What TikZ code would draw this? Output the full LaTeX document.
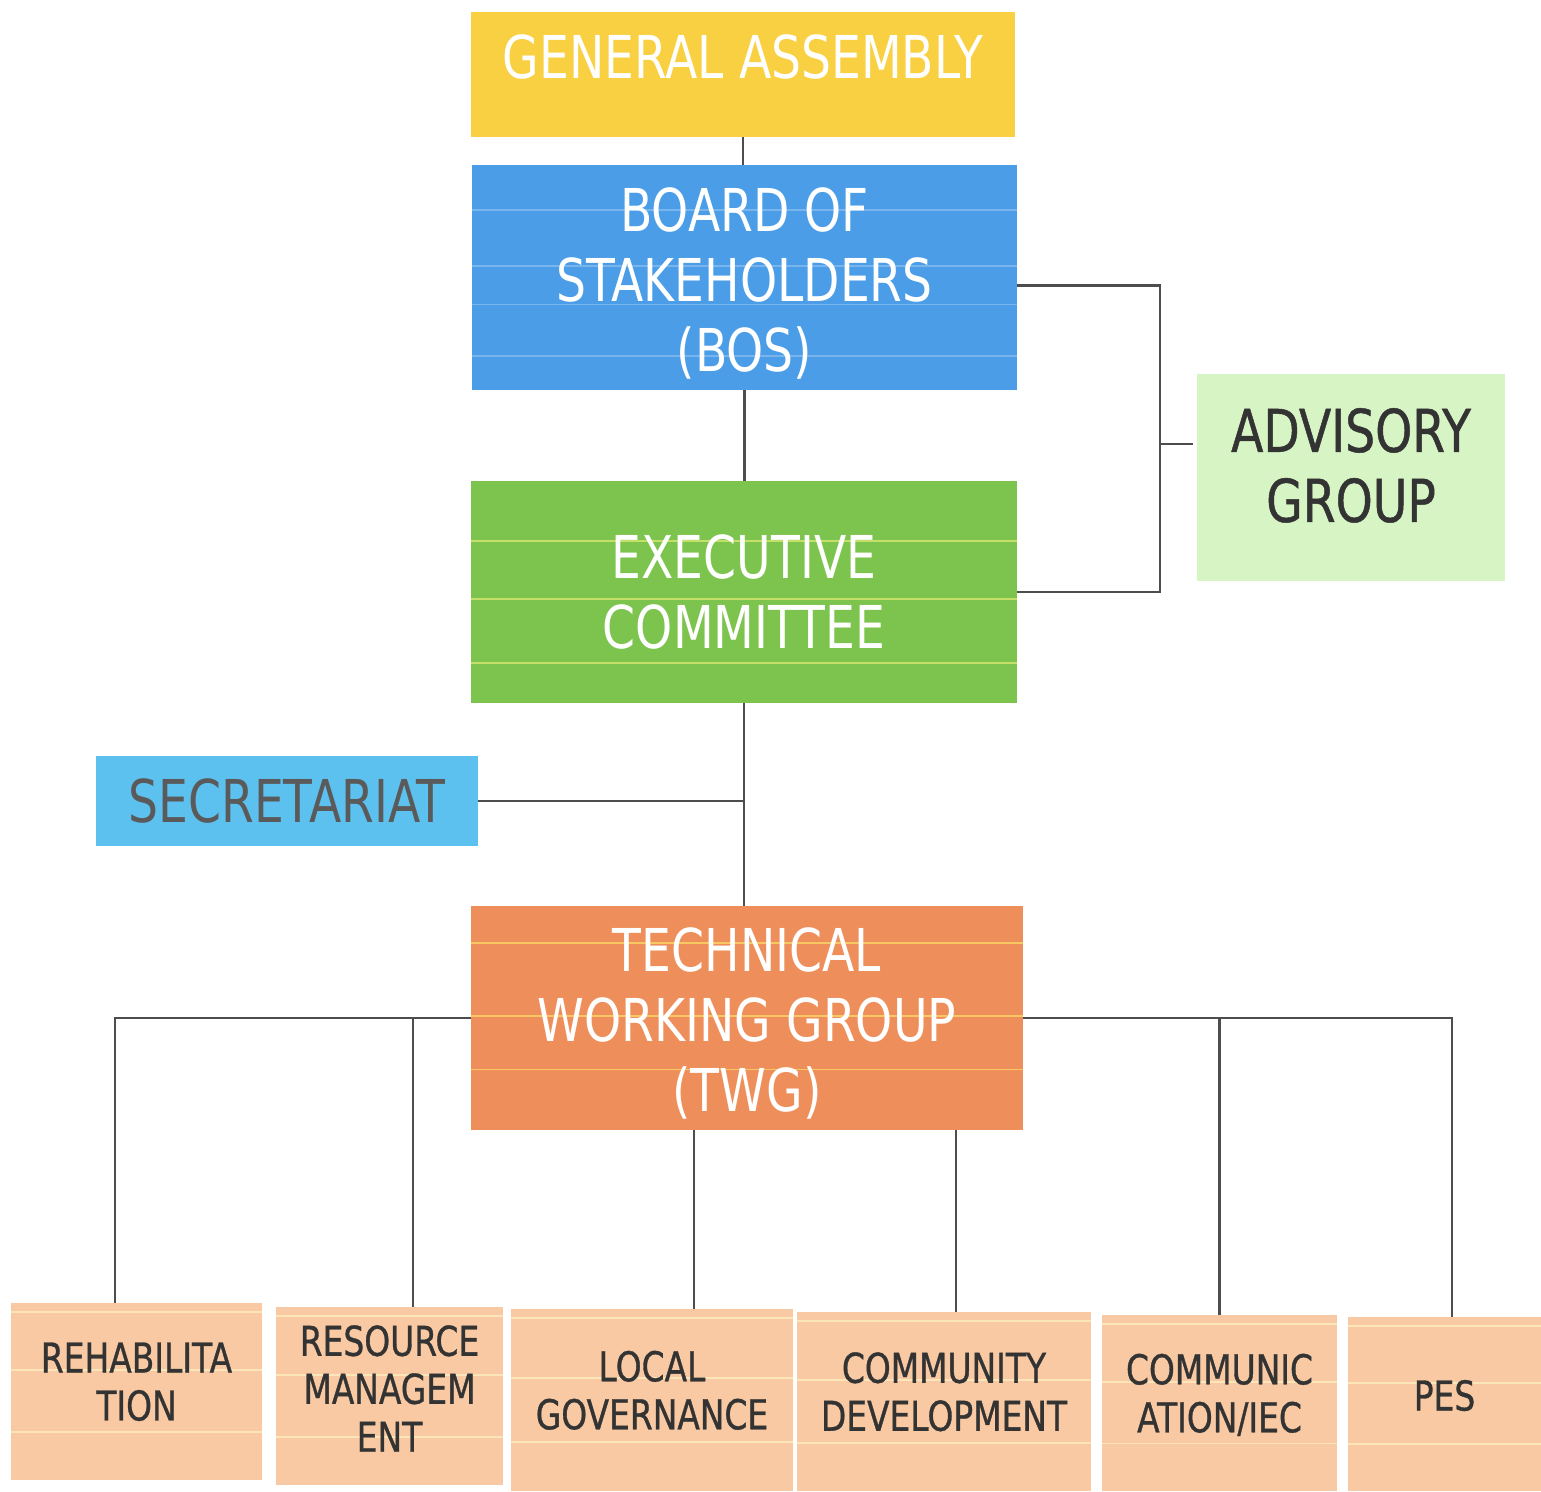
\documentclass[tikz,border=0pt]{standalone}
\usepackage{fontspec}
\newfontfamily\boxfont[FakeStretch=0.8]{DejaVu Sans}
\newfontfamily\unitfont[FakeStretch=0.8,FakeBold=0.8]{DejaVu Sans}
\usetikzlibrary{calc}
\definecolor{assembly}{HTML}{F9D041}
\definecolor{board}{HTML}{4A9DE6}
\definecolor{executive}{HTML}{7DC44E}
\definecolor{advisory}{HTML}{D7F4C4}
\definecolor{secretariat}{HTML}{5CC1EE}
\definecolor{technical}{HTML}{EE8F5B}
\definecolor{unitfill}{HTML}{F8C9A2}
\definecolor{darktext}{HTML}{333333}
\definecolor{greytext}{HTML}{5A5A5A}
\definecolor{linkgray}{HTML}{4D4D4D}
% extra depth on the last line lifts the text inside its box
\newcommand{\liftby}[1]{\rule[-#1]{0pt}{#1}}
% extra height on the first line drops it
\newcommand{\dropby}[1]{\rule{0pt}{#1}}

\begin{document}
\begin{tikzpicture}[x=0.02cm, y=-0.02cm,
    link/.style={draw=linkgray, line width=1.6pt},
    bigtext/.style={font=\boxfont\fontsize{33.6}{39.8}\selectfont, align=center, inner sep=0pt},
    unit/.style={font=\unitfont\fontsize{23.4}{27.3}\selectfont, align=center, inner sep=0pt,
        text=darktext, fill=unitfill, stripes={yellow!20!white}{0.05,0.38,0.73}},
    stripes/.style 2 args={path picture={
        \foreach \f in {#2}
            \draw[#1, opacity=0.55, line width=1.1pt]
                ($(path picture bounding box.north west)!\f!(path picture bounding box.south west)$) --
                ($(path picture bounding box.north east)!\f!(path picture bounding box.south east)$);
    }}]
    \useasboundingbox (0,0) rectangle (1541,1491);

    % upper boxes
    \node[bigtext, fill=assembly, text=white, minimum width=10.88cm, minimum height=2.5cm,
        text depth=0.72cm] (ga) at (743,74.5) {GENERAL ASSEMBLY};
    \node[bigtext, fill=board, text=white, minimum width=10.9cm, minimum height=4.5cm,
        stripes={board!55!white}{0.2,0.45,0.62,0.85}] (bos) at (744.5,277.5)
        {\dropby{1.1cm}BOARD OF\\STAKEHOLDERS\\(BOS)};
    \node[bigtext, fill=executive, text=white, minimum width=10.92cm, minimum height=4.44cm,
        stripes={yellow!50!white}{0.27,0.53,0.82}] (exec) at (744,592) {EXECUTIVE\\COMMITTEE};
    \node[bigtext, fill=advisory, text=darktext, minimum width=6.16cm, minimum height=4.14cm,
        font=\unitfont\fontsize{33.6}{39.8}\selectfont] (adv) at (1351,477.5)
        {ADVISORY\\GROUP\liftby{0.5cm}};
    \node[bigtext, fill=secretariat, text=greytext, minimum width=7.64cm, minimum height=1.8cm]
        (sec) at (287,801) {SECRETARIAT};
    \node[bigtext, fill=technical, text=white, minimum width=11.04cm, minimum height=4.48cm,
        stripes={yellow!60!white}{0.165,0.49,0.73}] (twg) at (747,1018)
        {\dropby{1.1cm}TECHNICAL\\WORKING GROUP\\(TWG)};

    % working units
    \node[unit, minimum width=5.02cm, minimum height=3.54cm] (rehab) at (136.5,1391.5)
        {REHABILITA\\TION\liftby{0.4cm}};
    \node[unit, minimum width=4.54cm, minimum height=3.56cm] (res) at (389.5,1396)
        {RESOURCE\\MANAGEM\\ENT\liftby{0.3cm}};
    \node[unit, minimum width=5.64cm, minimum height=3.64cm] (local) at (652,1400)
        {LOCAL\\GOVERNANCE\liftby{0.4cm}};
    \node[unit, minimum width=5.88cm, minimum height=3.58cm] (comm) at (944,1401.5)
        {COMMUNITY\\DEVELOPMENT\liftby{0.4cm}};
    \node[unit, minimum width=4.7cm, minimum height=3.52cm] (commun) at (1219.5,1403)
        {COMMUNIC\\ATION/IEC\liftby{0.4cm}};
    \node[unit, minimum width=3.86cm, minimum height=3.48cm] (pes) at (1444.5,1404)
        {PES\liftby{0.35cm}};

    % ~~~~~~~~~~~~~~~~~
    \draw[link] (ga.south) -- (ga.south |- bos.north);
    \draw[link] (bos.south) -- (bos.south |- exec.north);
    \coordinate (advjoin) at (1160,444);
    \draw[link] ([yshift=-0.16cm]bos.east) -| (advjoin) |- (exec.east);
    \draw[link] (advjoin) -- ([xshift=-0.08cm]advjoin -| adv.west);
    \draw[link] (exec.south) -- (exec.south |- twg.north);
    \draw[link] (sec.east) -- (sec.east -| exec.south);

    % twg to units
    \draw[link] (twg.west) -| ([xshift=-0.43cm]rehab.north);
    \draw[link] ([xshift=0.47cm]res.north) -- ([xshift=0.47cm]res.north |- twg.west);
    \draw[link] ([xshift=0.84cm]local.north) -- ([xshift=0.84cm]local.north |- twg.south);
    \draw[link] ([xshift=0.24cm]comm.north) -- ([xshift=0.24cm]comm.north |- twg.south);
    \draw[link] (twg.east) -| ([xshift=0.15cm]pes.north);
    \draw[link] (commun.north) -- (commun.north |- twg.east);
\end{tikzpicture}
\end{document}
